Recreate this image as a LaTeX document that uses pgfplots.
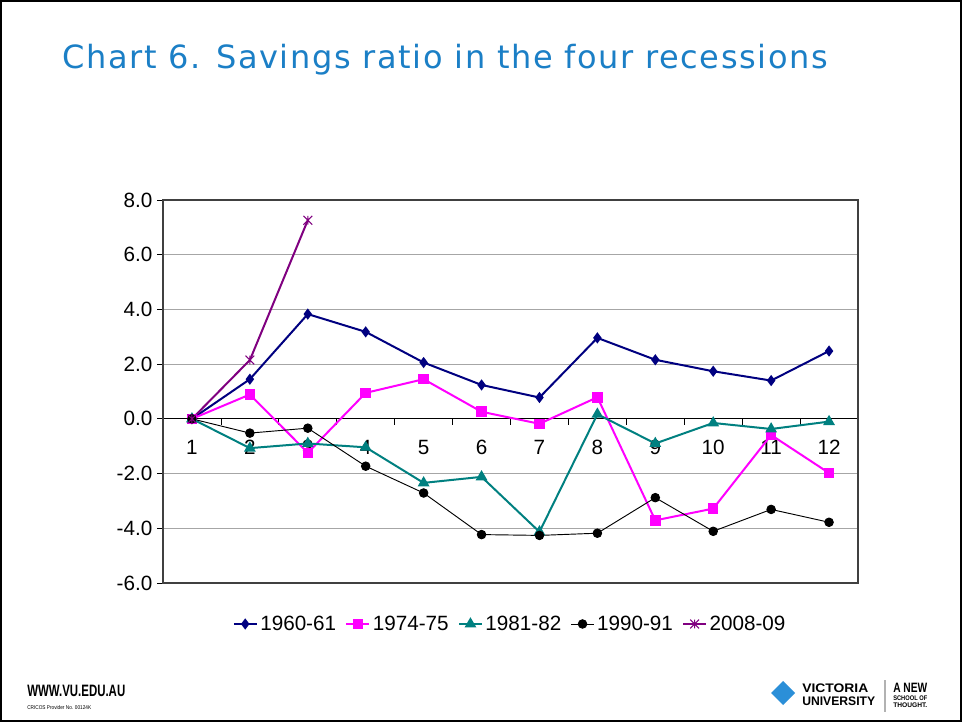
\documentclass[border=0pt]{standalone}
\usepackage{fontspec}
\setmainfont{Liberation Sans}
\newfontfamily\titlefont[LetterSpace=5]{DejaVu Sans}
\usepackage{pgfplots}
\pgfplotsset{compat=1.18}
\usepackage{graphicx}
\definecolor{titleblue}{HTML}{1B7FC6}
\definecolor{sNavy}{HTML}{000080}
\definecolor{sMag}{HTML}{FF00FF}
\definecolor{sTeal}{HTML}{008080}
\definecolor{sPurp}{HTML}{800080}
\definecolor{vublue}{HTML}{2B8FD8}
\pgfdeclareplotmark{xstar}{%
  \pgfpathmoveto{\pgfqpoint{-\pgfplotmarksize}{-\pgfplotmarksize}}%
  \pgfpathlineto{\pgfqpoint{\pgfplotmarksize}{\pgfplotmarksize}}%
  \pgfpathmoveto{\pgfqpoint{-\pgfplotmarksize}{\pgfplotmarksize}}%
  \pgfpathlineto{\pgfqpoint{\pgfplotmarksize}{-\pgfplotmarksize}}%
  \pgfpathmoveto{\pgfqpoint{0pt}{-\pgfplotmarksize}}%
  \pgfpathlineto{\pgfqpoint{0pt}{\pgfplotmarksize}}%
  \pgfusepathqstroke}
\begin{document}
\begin{tikzpicture}
\begin{scope}[x=0.75pt,y=0.75pt]
\useasboundingbox (0,0) rectangle (962,722);
\fill[white] (0,0) rectangle (962,722);
\draw[line width=1.6pt] (1.2,1.2) rectangle (960.8,720.8);
\node[anchor=west, text=titleblue, font=\titlefont\fontsize{24}{28}\selectfont, inner sep=0pt] at (62,662) {Chart 6. Savings ratio in the four recessions};
% footer left
\node[anchor=west, inner sep=0pt, font=\bfseries] at (27,31.5) {\resizebox{73.5pt}{8.5pt}{WWW.VU.EDU.AU}};
\node[anchor=west, inner sep=0pt, font=\fontsize{4}{5}\selectfont] at (27,14) {\resizebox{48pt}{3pt}{CRICOS Provider No. 00124K}};
% footer right logo
\fill[vublue] (771,29) -- (783,41) -- (795,29) -- (783,17) -- cycle;
\node[anchor=west, inner sep=0pt, font=\bfseries] at (802,33.5) {\resizebox{49.5pt}{6.5pt}{VICTORIA}};
\node[anchor=west, inner sep=0pt, font=\bfseries] at (802,20.5) {\resizebox{54.7pt}{6.5pt}{UNIVERSITY}};
\draw[gray!60, line width=0.8pt] (885,42) -- (885,10);
\node[anchor=west, inner sep=0pt, font=\bfseries] at (893,34) {\resizebox{25.5pt}{7pt}{A NEW}};
\node[anchor=west, inner sep=0pt, font=\bfseries] at (893,23.5) {\resizebox{25.5pt}{3.5pt}{SCHOOL OF}};
\node[anchor=west, inner sep=0pt, font=\bfseries] at (893,16.5) {\resizebox{25.5pt}{3.5pt}{THOUGHT.}};
\end{scope}
\begin{axis}[
  at={(122.25pt,104.25pt)}, anchor=south west, scale only axis,
  width=521.25pt, height=287.25pt,
  xmin=0.5, xmax=12.5, ymin=-6, ymax=8,
  axis x line*=middle, axis y line*=left,
  axis line style={black, line width=0.8pt},
  tick align=outside,
  xtick={1,...,12},
  xticklabels={1,2,3,4,5,6,7,8,9,10,11,12},
  major x tick style={draw=none},
  minor xtick={1.5,2.5,...,11.5},
  minor x tick style={black, line width=0.6pt},
  minor tick length=4.5pt,
  xticklabel style={yshift=-8pt},
  ytick={-6,-4,...,8},
  yticklabels={-6.0,-4.0,-2.0,0.0,2.0,4.0,6.0,8.0},
  y tick style={black, line width=0.6pt},
  major tick length=4.5pt,
  ymajorgrids, grid style={gray!70, line width=0.6pt},
  tick label style={font=\fontsize{15.5}{17}\selectfont},
  clip=false,
  legend style={at={(0.5,-0.107)}, anchor=center, draw=none, fill=none,
    legend columns=5, font=\fontsize{15.5}{17}\selectfont,
    /tikz/every even column/.append style={column sep=5pt}},
  legend cell align=left,
]
\draw[black!75, line width=0.8pt] (rel axis cs:0,0) rectangle (rel axis cs:1,1);
\addplot[sNavy, line width=1.5pt, mark=diamond*, mark size=3pt] coordinates {
(1,0) (2,1.45) (3,3.83) (4,3.18) (5,2.06) (6,1.24) (7,0.78) (8,2.96) (9,2.16) (10,1.74) (11,1.40) (12,2.48)};
\addlegendentry{1960-61}
\addplot[sMag, line width=1.5pt, mark=square*, mark size=3.2pt] coordinates {
(1,0) (2,0.89) (3,-1.24) (4,0.95) (5,1.45) (6,0.26) (7,-0.18) (8,0.79) (9,-3.71) (10,-3.28) (11,-0.59) (12,-1.98)};
\addlegendentry{1974-75}
\addplot[sTeal, line width=1.5pt, mark=triangle*, mark size=3.6pt] coordinates {
(1,0) (2,-1.07) (3,-0.90) (4,-1.04) (5,-2.34) (6,-2.12) (7,-4.13) (8,0.17) (9,-0.90) (10,-0.15) (11,-0.37) (12,-0.10)};
\addlegendentry{1981-82}
\addplot[black, line width=0.7pt, mark=*, mark size=3.2pt] coordinates {
(1,0) (2,-0.52) (3,-0.34) (4,-1.73) (5,-2.71) (6,-4.23) (7,-4.26) (8,-4.18) (9,-2.88) (10,-4.11) (11,-3.31) (12,-3.78)};
\addlegendentry{1990-91}
\addplot[sPurp, line width=1.5pt, mark=xstar, mark size=3.3pt, mark options={line width=0.8pt}] coordinates {
(1,0) (2,2.15) (3,7.26)};
\addlegendentry{2008-09}
\end{axis}
\end{tikzpicture}
\end{document}
